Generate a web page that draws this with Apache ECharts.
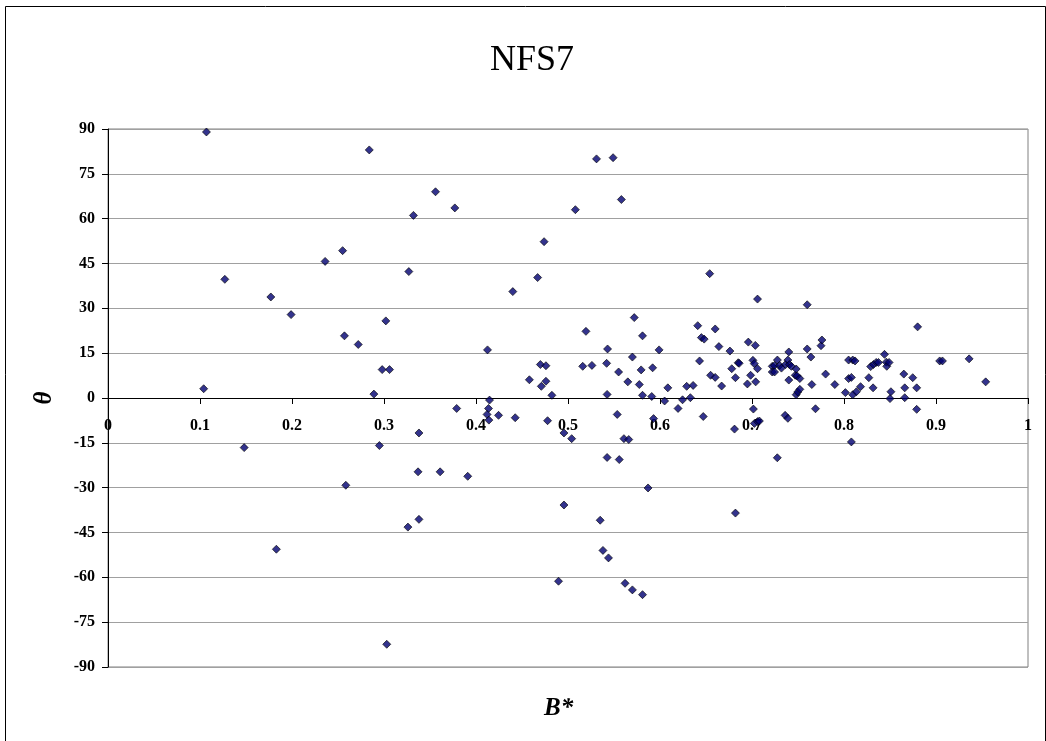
<!DOCTYPE html>
<html>
<head>
<meta charset="utf-8">
<title>NFS7</title>
<script src="https://cdn.jsdelivr.net/npm/echarts@6/dist/echarts.min.js"></script>
<style>
  html, body { margin: 0; padding: 0; background: #fff; }
  #chart { width: 1046px; height: 741px; }
</style>
</head>
<body>
<div id="chart"></div>
<script>
// B* values of each sample
const bStar = [
  0.107, 0.104, 0.127, 0.148, 0.177, 0.183, 0.199, 0.236, 0.255, 0.257,
  0.2585, 0.272, 0.284, 0.289, 0.295, 0.298, 0.306, 0.302, 0.303, 0.326,
  0.327, 0.332, 0.337, 0.338, 0.338, 0.356, 0.361, 0.377, 0.379, 0.391,
  0.4125, 0.4147, 0.4136, 0.412, 0.414, 0.4245, 0.440, 0.4426, 0.458, 0.467,
  0.470, 0.471, 0.474, 0.476, 0.476, 0.4778, 0.4825, 0.4897, 0.4956, 0.4956,
  0.504, 0.508, 0.516, 0.5195, 0.526, 0.531, 0.535, 0.538, 0.542, 0.5425,
  0.543, 0.5425, 0.544, 0.549, 0.5535, 0.555, 0.5557, 0.558, 0.5608, 0.562,
  0.565, 0.566, 0.570, 0.570, 0.572, 0.5775, 0.5795, 0.581, 0.581, 0.581,
  0.587, 0.591, 0.592, 0.593, 0.599, 0.605, 0.6085, 0.6196, 0.6245, 0.629,
  0.633, 0.636, 0.641, 0.643, 0.645, 0.647, 0.648, 0.654, 0.655, 0.660,
  0.660, 0.664, 0.667, 0.676, 0.678, 0.681, 0.682, 0.682, 0.685, 0.686,
  0.695, 0.696, 0.6985, 0.701, 0.7015, 0.7025, 0.7026, 0.7036, 0.704, 0.706,
  0.706, 0.706, 0.708, 0.722, 0.722, 0.7245, 0.7245, 0.7275, 0.7276, 0.730,
  0.732, 0.736, 0.7365, 0.739, 0.739, 0.740, 0.740, 0.7406, 0.7428, 0.747,
  0.748, 0.748, 0.749, 0.7497, 0.752, 0.752, 0.760, 0.760, 0.764, 0.765,
  0.769, 0.775, 0.776, 0.780, 0.790, 0.8015, 0.805, 0.805, 0.808, 0.808,
  0.8095, 0.8095, 0.812, 0.8135, 0.818, 0.827, 0.829, 0.8316, 0.832, 0.835,
  0.8374, 0.844, 0.846, 0.8465, 0.849, 0.851, 0.850, 0.865, 0.866, 0.866,
  0.8747, 0.879, 0.879, 0.880, 0.904, 0.907, 0.936, 0.954
];

// θ values (degrees), same order as bStar
const theta = [
  89.0, 3.1, 39.7, -16.6, 33.8, -50.6, 27.9, 45.7, 49.3, 20.8,
  -29.2, 17.9, 83.0, 1.3, -15.9, 9.5, 9.5, 25.8, -82.4, -43.2,
  42.3, 61.1, -24.7, -11.7, -40.6, 69.0, -24.7, 63.6, -3.5, -26.2,
  16.1, -0.7, -3.5, -5.5, -7.4, -5.8, 35.6, -6.6, 6.1, 40.3,
  11.2, 3.9, 52.3, 10.8, 5.6, -7.6, 0.9, -61.3, -11.7, -35.8,
  -13.6, 63.0, 10.6, 22.3, 10.9, 80.0, -40.9, -51.0, 11.6, 1.2,
  16.4, -19.9, -53.5, 80.4, -5.5, 8.7, -20.6, 66.4, -13.6, -62.0,
  5.4, -13.9, 13.7, -64.2, 26.9, 4.5, 9.4, 20.8, 0.9, -65.8,
  -30.1, 0.5, 10.1, -6.9, 16.1, -1.0, 3.4, -3.5, -0.6, 3.9,
  0.1, 4.2, 24.2, 12.4, 20.2, -6.2, 19.7, 41.6, 7.6, 23.1,
  6.9, 17.2, 4.0, 15.7, 9.8, -10.4, 6.8, -38.5, 11.8, 11.6,
  4.7, 18.7, 7.6, 12.6, -3.7, 11.5, -8.5, 17.6, 5.4, 33.1,
  9.8, -7.9, -7.7, 10.6, 8.7, 10.9, 8.7, -20.0, 12.7, 10.9,
  10.0, -5.8, 11.2, 12.7, -6.8, 15.4, 6.0, 11.2, 10.6, 7.6,
  9.7, 1.1, 7.4, 2.0, 6.5, 2.9, 31.2, 16.4, 13.7, 4.5,
  -3.6, 17.5, 19.4, 8.0, 4.5, 1.8, 12.7, 6.5, 6.9, -14.7,
  12.7, 1.1, 12.4, 2.1, 3.8, 6.8, 10.5, 3.4, 11.2, 11.9,
  11.9, 14.6, 12.0, 10.6, 11.9, 2.1, -0.2, 8.0, 3.4, 0.1,
  6.8, 3.4, -3.8, 23.8, 12.4, 12.4, 13.1, 5.4
];

// Axis ranges and tick steps
const xRange = [0, 1];
const xStep = 0.1;
const yRange = [-90, 90];
const yStep = 15;

const points = bStar.map((b, i) => [b, theta[i]]);

// Plot box
const plot = { left: 108, top: 129, width: 920, height: 538 };
// The B* axis sits on θ = 0: lift it from the bottom edge by that share of the height
const zeroLift = plot.height * (0 - yRange[0]) / (yRange[1] - yRange[0]);

const serif = '"Liberation Serif", "Times New Roman", serif';
const chart = echarts.init(document.getElementById('chart'), null, { renderer: 'canvas' });

chart.setOption({
  animation: false,
  backgroundColor: '#ffffff',
  title: {
    text: 'NFS7',
    left: 527,
    top: 38,
    textAlign: 'center',
    textStyle: { fontFamily: serif, fontSize: 36, fontWeight: 'normal', color: '#000' }
  },
  grid: {
    left: plot.left,
    top: plot.top,
    width: plot.width,
    height: plot.height,
    show: true,
    borderColor: '#808080',
    borderWidth: 1,
    backgroundColor: 'transparent'
  },
  xAxis: {
    type: 'value',
    position: 'bottom',
    min: xRange[0],
    max: xRange[1],
    interval: xStep,
    offset: -zeroLift,
    axisLine: { onZero: false, lineStyle: { color: '#000', width: 1 } },
    axisTick: { show: true, inside: false, length: 6, lineStyle: { color: '#000' } },
    splitLine: { show: false },
    axisLabel: {
      margin: 20,
      showMinLabel: true,
      showMaxLabel: true,
      fontFamily: serif,
      fontSize: 16,
      fontWeight: 'bold',
      color: '#000',
      formatter: v => String(+v.toFixed(1))
    }
  },
  yAxis: {
    type: 'value',
    min: yRange[0],
    max: yRange[1],
    interval: yStep,
    name: 'θ',
    nameLocation: 'middle',
    nameGap: 51,
    nameRotate: 90,
    nameTextStyle: { fontFamily: serif, fontSize: 25, fontWeight: 'bold', fontStyle: 'italic', color: '#000' },
    axisLine: { show: true, onZero: false, lineStyle: { color: '#000', width: 1 } },
    axisTick: { show: true, inside: false, length: 6, lineStyle: { color: '#000' } },
    splitLine: { show: true, lineStyle: { color: '#a0a0a0', width: 1 } },
    axisLabel: {
      margin: 13,
      fontFamily: serif,
      fontSize: 16,
      fontWeight: 'bold',
      color: '#000'
    }
  },
  graphic: [
    {
      type: 'rect',
      left: 3,
      top: 4,
      shape: { width: 1040, height: 745 },
      style: { fill: 'none', stroke: '#000', lineWidth: 1 },
      silent: true
    },
    {
      type: 'text',
      left: 544,
      top: 696,
      style: {
        text: 'B*',
        font: 'italic bold 25px ' + serif,
        fill: '#000'
      }
    }
  ],
  series: [{
    type: 'scatter',
    data: points,
    symbol: 'diamond',
    symbolSize: 8,
    itemStyle: { color: '#000070', borderColor: '#000', borderWidth: 0.8 }
  }]
});
</script>
</body>
</html>
